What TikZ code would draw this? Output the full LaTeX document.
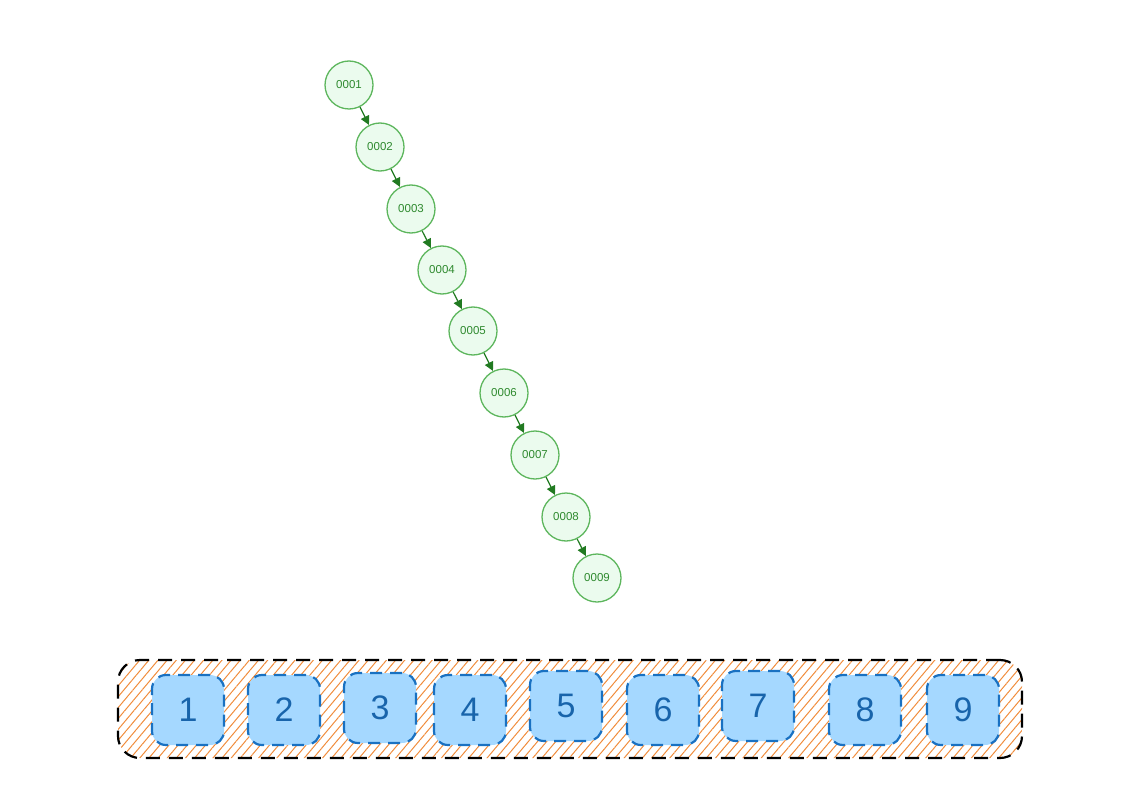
\documentclass[tikz,border=0pt]{standalone}
\usepackage{fontspec}
\setmainfont{Liberation Sans}
\usetikzlibrary{patterns.meta,arrows.meta}
\definecolor{nodefill}{HTML}{EBFBEE}
\definecolor{nodeline}{HTML}{5DB65D}
\definecolor{nodetext}{HTML}{2F8A2F}
\definecolor{arrowcol}{HTML}{217A21}
\definecolor{hatch}{HTML}{F08C3C}
\definecolor{boxfill}{HTML}{A5D8FF}
\definecolor{boxline}{HTML}{1971C2}
\definecolor{boxtext}{HTML}{1864AB}
\tikzset{
  treenode/.style={circle, draw=nodeline, fill=nodefill, line width=1.3pt, minimum size=48pt, inner sep=0pt, text=nodetext, font=\fontsize{11.5}{12}\selectfont},
  link/.style={draw=arrowcol, line width=1.2pt, -{Triangle[length=9pt,width=9pt]}},
  numbox/.style={rounded corners=14pt, draw=boxline, fill=boxfill, line width=2.2pt, dash pattern=on 12pt off 8pt, minimum width=72pt, minimum height=70pt, inner sep=0pt, text=boxtext, font=\fontsize{34}{36}\selectfont},
  outer/.style={rounded corners=22pt, draw=black, line width=2.2pt, dash pattern=on 14pt off 9pt, pattern={Lines[angle=50,distance=7pt,line width=1pt]}, pattern color=hatch, minimum width=904pt, minimum height=98pt, inner sep=0pt}
}
\begin{document}
\begin{tikzpicture}[x=1pt,y=-1pt]
\useasboundingbox (0,0) rectangle (1134,794);
\node[outer] (band) at (570,709) {};
\foreach \i/\x/\y in {1/188/710, 2/284/710, 3/380/708, 4/470/710, 5/566/706, 6/663/710, 7/758/706, 8/865/710, 9/963/710} {
  \node[numbox] (b\i) at (\x,\y) {\i};
}
\foreach \i/\x/\y in {1/349/85, 2/380/147, 3/411/209, 4/442/270, 5/473/331, 6/504/393, 7/535/455, 8/566/517, 9/597/578} {
  \node[treenode] (n\i) at (\x,\y) {000\i};
}
\foreach \a/\b in {1/2,2/3,3/4,4/5,5/6,6/7,7/8,8/9} {
  \draw[link] (n\a) -- (n\b);
}
\end{tikzpicture}
\end{document}
